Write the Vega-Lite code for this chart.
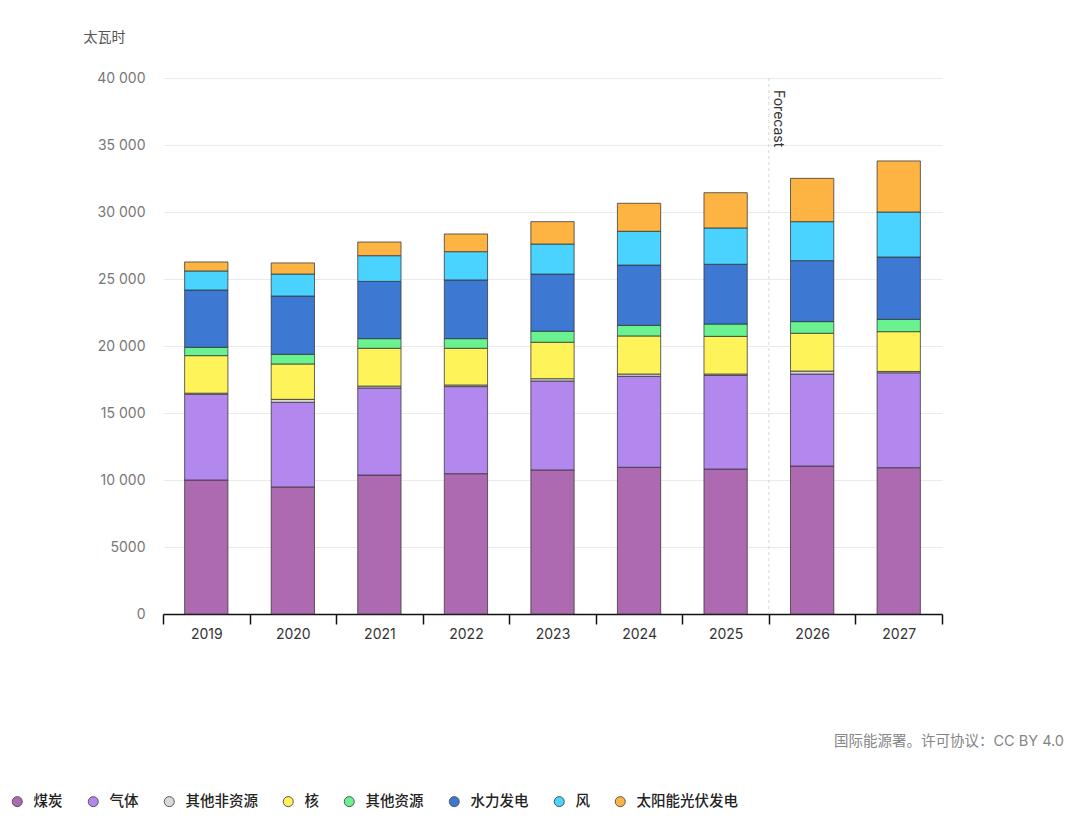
{
  "$schema": "https://vega.github.io/schema/vega-lite/v6.json",
  "width": 779,
  "height": 536,
  "autosize": "none",
  "padding": {"left": 163, "top": 78, "right": 138, "bottom": 211},
  "background": "white",
  "config": {
    "font": "Inter, Noto Sans CJK SC, sans-serif",
    "view": {"stroke": null}
  },
  "title": {
    "text": "国际能源署。许可协议：CC BY 4.0",
    "orient": "bottom",
    "anchor": "end",
    "frame": "group",
    "offset": -74,
    "dx": 122,
    "fontSize": 14.5,
    "fontWeight": "normal",
    "color": "#858585"
  },
  "layer": [
    {
      "data": {
        "values": [
          {"year": "2019", "source": "煤炭", "twh": 10000},
          {"year": "2019", "source": "气体", "twh": 6400},
          {"year": "2019", "source": "其他非资源", "twh": 80},
          {"year": "2019", "source": "核", "twh": 2800},
          {"year": "2019", "source": "其他资源", "twh": 620},
          {"year": "2019", "source": "水力发电", "twh": 4280},
          {"year": "2019", "source": "风", "twh": 1420},
          {"year": "2019", "source": "太阳能光伏发电", "twh": 670},
          {"year": "2020", "source": "煤炭", "twh": 9480},
          {"year": "2020", "source": "气体", "twh": 6320},
          {"year": "2020", "source": "其他非资源", "twh": 220},
          {"year": "2020", "source": "核", "twh": 2640},
          {"year": "2020", "source": "其他资源", "twh": 720},
          {"year": "2020", "source": "水力发电", "twh": 4350},
          {"year": "2020", "source": "风", "twh": 1640},
          {"year": "2020", "source": "太阳能光伏发电", "twh": 830},
          {"year": "2021", "source": "煤炭", "twh": 10370},
          {"year": "2021", "source": "气体", "twh": 6500},
          {"year": "2021", "source": "其他非资源", "twh": 140},
          {"year": "2021", "source": "核", "twh": 2820},
          {"year": "2021", "source": "其他资源", "twh": 720},
          {"year": "2021", "source": "水力发电", "twh": 4270},
          {"year": "2021", "source": "风", "twh": 1920},
          {"year": "2021", "source": "太阳能光伏发电", "twh": 1020},
          {"year": "2022", "source": "煤炭", "twh": 10470},
          {"year": "2022", "source": "气体", "twh": 6500},
          {"year": "2022", "source": "其他非资源", "twh": 120},
          {"year": "2022", "source": "核", "twh": 2740},
          {"year": "2022", "source": "其他资源", "twh": 720},
          {"year": "2022", "source": "水力发电", "twh": 4380},
          {"year": "2022", "source": "风", "twh": 2110},
          {"year": "2022", "source": "太阳能光伏发电", "twh": 1320},
          {"year": "2023", "source": "煤炭", "twh": 10750},
          {"year": "2023", "source": "气体", "twh": 6640},
          {"year": "2023", "source": "其他非资源", "twh": 170},
          {"year": "2023", "source": "核", "twh": 2720},
          {"year": "2023", "source": "其他资源", "twh": 820},
          {"year": "2023", "source": "水力发电", "twh": 4270},
          {"year": "2023", "source": "风", "twh": 2240},
          {"year": "2023", "source": "太阳能光伏发电", "twh": 1670},
          {"year": "2024", "source": "煤炭", "twh": 10950},
          {"year": "2024", "source": "气体", "twh": 6790},
          {"year": "2024", "source": "其他非资源", "twh": 170},
          {"year": "2024", "source": "核", "twh": 2840},
          {"year": "2024", "source": "其他资源", "twh": 790},
          {"year": "2024", "source": "水力发电", "twh": 4500},
          {"year": "2024", "source": "风", "twh": 2520},
          {"year": "2024", "source": "太阳能光伏发电", "twh": 2090},
          {"year": "2025", "source": "煤炭", "twh": 10820},
          {"year": "2025", "source": "气体", "twh": 6990},
          {"year": "2025", "source": "其他非资源", "twh": 100},
          {"year": "2025", "source": "核", "twh": 2810},
          {"year": "2025", "source": "其他资源", "twh": 920},
          {"year": "2025", "source": "水力发电", "twh": 4460},
          {"year": "2025", "source": "风", "twh": 2710},
          {"year": "2025", "source": "太阳能光伏发电", "twh": 2630},
          {"year": "2026", "source": "煤炭", "twh": 11040},
          {"year": "2026", "source": "气体", "twh": 6870},
          {"year": "2026", "source": "其他非资源", "twh": 220},
          {"year": "2026", "source": "核", "twh": 2820},
          {"year": "2026", "source": "其他资源", "twh": 870},
          {"year": "2026", "source": "水力发电", "twh": 4550},
          {"year": "2026", "source": "风", "twh": 2910},
          {"year": "2026", "source": "太阳能光伏发电", "twh": 3230},
          {"year": "2027", "source": "煤炭", "twh": 10920},
          {"year": "2027", "source": "气体", "twh": 7080},
          {"year": "2027", "source": "其他非资源", "twh": 100},
          {"year": "2027", "source": "核", "twh": 2970},
          {"year": "2027", "source": "其他资源", "twh": 920},
          {"year": "2027", "source": "水力发电", "twh": 4650},
          {"year": "2027", "source": "风", "twh": 3360},
          {"year": "2027", "source": "太阳能光伏发电", "twh": 3810}
        ]
      },
      "transform": [
        {"calculate": "indexof(['煤炭', '气体', '其他非资源', '核', '其他资源', '水力发电', '风', '太阳能光伏发电'], datum.source)", "as": "stackOrder"}
      ],
      "mark": {"type": "bar", "width": {"band": 0.5}, "stroke": "#333", "strokeWidth": 1, "strokeOpacity": 0.75},
      "encoding": {
        "x": {
          "field": "year",
          "type": "nominal",
          "scale": {"paddingInner": 0, "paddingOuter": 0},
          "axis": {
            "title": null,
            "labelAngle": 0,
            "labelFontSize": 14,
            "labelColor": "#333",
            "labelPadding": 3,
            "tickBand": "extent",
            "tickSize": 10,
            "tickColor": "#111",
            "tickWidth": 1.5,
            "domainColor": "#111",
            "domainWidth": 1.5
          }
        },
        "y": {
          "field": "twh",
          "type": "quantitative",
          "stack": "zero",
          "scale": {"domain": [0, 40000]},
          "axis": {
            "title": "太瓦时",
            "titleAngle": 0,
            "titleAlign": "left",
            "titleBaseline": "middle",
            "titleX": -80,
            "titleY": -41,
            "titleFontSize": 14,
            "titleFontWeight": "normal",
            "titleColor": "#555",
            "tickCount": 8,
            "domain": false,
            "ticks": false,
            "labelPadding": 18,
            "labelFontSize": 14,
            "labelColor": "#777",
            "gridColor": "#eaeaea",
            "labelExpr": "datum.value >= 10000 ? replace(format(datum.value, ','), ',', ' ') : format(datum.value, 'd')"
          }
        },
        "color": {
          "field": "source",
          "type": "nominal",
          "sort": ["煤炭", "气体", "其他非资源", "核", "其他资源", "水力发电", "风", "太阳能光伏发电"],
          "scale": {
            "domain": ["煤炭", "气体", "其他非资源", "核", "其他资源", "水力发电", "风", "太阳能光伏发电"],
            "range": ["#ad6ab0", "#b388ee", "#d9d9d9", "#fff35a", "#6bf290", "#3d79d3", "#4ad3fe", "#feb442"]
          },
          "legend": {
            "title": null,
            "orient": "none",
            "legendX": -153,
            "legendY": 716,
            "direction": "horizontal",
            "symbolType": "circle",
            "symbolSize": 100,
            "symbolStrokeColor": "#555",
            "symbolStrokeWidth": 1,
            "labelFontSize": 14.5,
            "labelFontWeight": 500,
            "labelColor": "#222",
            "labelOffset": 9,
            "columnPadding": 23
          }
        },
        "order": {"field": "stackOrder", "type": "quantitative", "sort": "ascending"}
      }
    },
    {
      "data": {"values": [{"label": "Forecast"}]},
      "mark": {"type": "rule", "color": "#d6d6d6", "strokeDash": [3, 3], "strokeWidth": 1},
      "encoding": {
        "x": {"datum": "2026", "type": "nominal", "bandPosition": 0}
      }
    },
    {
      "data": {"values": [{"label": "Forecast"}]},
      "mark": {"type": "text", "angle": 90, "align": "left", "baseline": "bottom", "fontSize": 14, "color": "#333", "dx": 12, "dy": -2},
      "encoding": {
        "x": {"datum": "2026", "type": "nominal", "bandPosition": 0},
        "y": {"datum": 40000, "type": "quantitative"},
        "text": {"field": "label"}
      }
    }
  ]
}
